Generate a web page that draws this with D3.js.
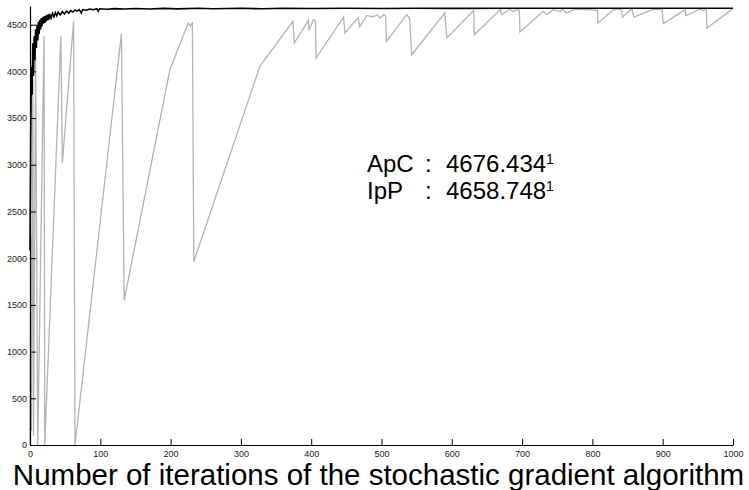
<!DOCTYPE html>
<html>
<head>
<meta charset="utf-8">
<script src="https://cdn.jsdelivr.net/npm/d3@7"></script>
<style>
  body { margin: 0; background: #fff; }
  svg { display: block; }
  .tick text { font-family: "Liberation Sans", Arial, sans-serif; font-size: 9px; fill: #222; }
</style>
</head>
<body>
<script>
// axis ticks
const xTicks = [0, 100, 200, 300, 400, 500, 600, 700, 800, 900, 1000];
const yTicks = [0, 500, 1000, 1500, 2000, 2500, 3000, 3500, 4000, 4500];

// black curve: ApC estimate per iteration
const apcIter = [0, 1, 2, 3, 4, 5, 6, 7, 8, 9, 10, 11, 12, 13, 14, 15, 16, 17, 18, 19, 20,
  21, 22, 23, 24, 25, 26, 27, 28, 30, 32, 34, 36, 38, 40, 43, 46, 49, 52, 55, 58, 61, 64,
  67, 70, 73, 75, 80, 85, 90, 95, 97, 99, 110, 120, 135, 150, 170, 190, 210, 240, 260,
  300, 330, 360, 400, 450, 500, 550, 600, 700, 800, 900, 1000];
const apcValue = [2080, 3300, 4050, 3750, 4300, 3950, 4380, 4120, 4450, 4250, 4500, 4330, 4530,
  4400, 4550, 4450, 4570, 4480, 4580, 4510, 4590, 4520, 4595, 4535, 4605, 4545, 4610, 4555,
  4615, 4570, 4622, 4585, 4628, 4595, 4634, 4605, 4640, 4615, 4645, 4625, 4650, 4635, 4658,
  4645, 4662, 4625, 4662, 4655, 4668, 4660, 4670, 4645, 4670, 4665, 4672, 4668, 4674, 4668,
  4675, 4669, 4676, 4670, 4676, 4670, 4676, 4673, 4676, 4674, 4676, 4675, 4676, 4676, 4676,
  4676];

// grey curve: IpP estimate per iteration
const ippIter = [0, 1, 2, 4, 5, 8, 11, 20, 21, 44, 46, 62, 64, 130, 134, 199, 225, 228, 231,
  233, 327, 374, 376, 396, 397, 403, 406, 407, 446, 448, 467, 469, 479, 488, 494, 498, 503,
  506, 507, 536, 540, 543, 590, 593, 631, 632, 669, 671, 683, 687, 695, 696, 697, 730, 735,
  744, 754, 757, 763, 775, 797, 804, 807, 808, 830, 835, 841, 843, 856, 859, 887, 899, 901,
  932, 933, 953, 957, 962, 963, 998, 1000];
const ippValue = [0, 2250, 150, 3900, 100, 4157, 0, 4382, 0, 4382, 3021, 4536, 0, 4400, 1550,
  4018, 4518, 4482, 4525, 1964, 4054, 4536, 4304, 4546, 4439, 4554, 4540, 4143, 4582, 4411,
  4575, 4479, 4597, 4585, 4607, 4570, 4607, 4590, 4321, 4607, 4560, 4179, 4625, 4357, 4650,
  4393, 4661, 4607, 4668, 4640, 4668, 4640, 4421, 4643, 4607, 4661, 4640, 4668, 4625, 4665,
  4660, 4650, 4665, 4518, 4661, 4668, 4668, 4582, 4670, 4582, 4665, 4661, 4511, 4661, 4596,
  4668, 4650, 4668, 4464, 4661, 4665];

const labelNames = ["ApC", "IpP"];
const labelValues = ["4676.434", "4658.748"];

const width = 749, height = 490;
const margin = { left: 30, right: 16, top: 6, bottom: 45 };

const svg = d3.select("body").append("svg")
  .attr("width", width)
  .attr("height", height);

const x = d3.scaleLinear().domain([0, 1000]).range([margin.left, width - margin.right]);
const y = d3.scaleLinear().domain([0, 4700]).range([height - margin.bottom, margin.top]);

const line = d3.line()
  .x(d => x(d[0]))
  .y(d => y(d[1]));

const ipp = ippIter.map((it, i) => [it, ippValue[i]]);
const apc = apcIter.map((it, i) => [it, apcValue[i]]);

svg.append("path")
  .datum(ipp)
  .attr("fill", "none")
  .attr("stroke", "#b3b3b3")
  .attr("stroke-width", 1.3)
  .attr("d", line);

svg.append("path")
  .datum(apc)
  .attr("fill", "none")
  .attr("stroke", "#000")
  .attr("stroke-width", 1.6)
  .attr("d", line);

// axes, ticks pointing inward
svg.append("g")
  .attr("transform", `translate(0,${y(0)})`)
  .call(d3.axisBottom(x).tickValues(xTicks).tickFormat(d3.format("d"))
    .tickSize(-6).tickSizeOuter(0).tickPadding(6));

svg.append("g")
  .attr("transform", `translate(${x(0)},0)`)
  .call(d3.axisLeft(y).tickValues(yTicks).tickFormat(d3.format("d"))
    .tickSize(-6).tickSizeOuter(0).tickPadding(3));

svg.selectAll(".domain").attr("stroke", "#000").attr("stroke-width", 1.2);
svg.selectAll(".tick line").attr("stroke", "#000");

// x axis title
svg.append("text")
  .attr("x", (x(0) + x(1000)) / 2 - 3)
  .attr("y", 485)
  .attr("text-anchor", "middle")
  .style("font-family", "'Liberation Sans', Arial, sans-serif")
  .style("font-size", "29.5px")
  .style("fill", "#000")
  .text("Number of iterations of the stochastic gradient algorithm");

// annotation
const note = svg.append("g")
  .style("font-family", "'Liberation Sans', Arial, sans-serif")
  .style("fill", "#000");

labelNames.forEach((name, i) => {
  const by = 172 + i * 27;
  const t = note.append("text").attr("y", by).style("font-size", "24px");
  t.append("tspan").attr("x", 367).text(name);
  t.append("tspan").attr("x", 425).text(":");
  t.append("tspan").attr("x", 446).text(labelValues[i]);
  t.append("tspan").attr("dy", -8).style("font-size", "14px").text("1");
});
</script>
</body>
</html>
